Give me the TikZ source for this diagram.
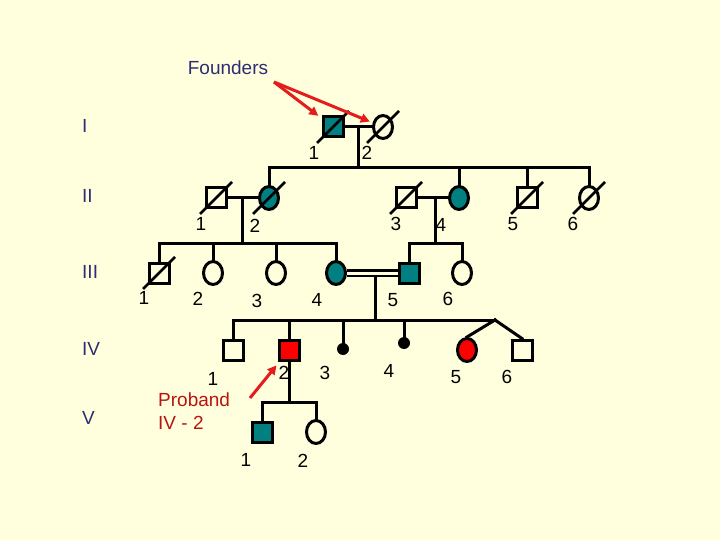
\documentclass[tikz,border=0pt]{standalone}
\usepackage{fontspec}
\setmainfont{Liberation Sans}
\usepackage{xcolor}
\usepackage{tikz}
\usetikzlibrary{arrows.meta,calc,shapes.geometric}
\definecolor{bgpaper}{RGB}{255,255,221}
\definecolor{affteal}{RGB}{0,128,128}
\definecolor{genblue}{RGB}{45,45,115}
\definecolor{probred}{RGB}{185,20,20}
\definecolor{arrred}{RGB}{228,28,28}
\tikzset{
  male/.style={rectangle,draw=black,line width=3pt,minimum size=20pt,inner sep=0pt},
  female/.style={ellipse,draw=black,line width=3pt,minimum width=19pt,minimum height=23pt,inner sep=0pt},
  aff/.style={fill=affteal},
  prob/.style={fill=red},
  sab/.style={circle,fill=black,minimum size=12pt,inner sep=0pt},
  rel/.style={line width=3pt,black,line cap=rect},
  consang/.style={line width=2.5pt,black,double=bgpaper,double distance=3pt},
  slash/.style={line width=2.7pt,black},
  ptr/.style={line width=3pt,arrred,-{Triangle[length=9pt,width=9pt]}},
  num/.style={font=\fontsize{19}{23}\selectfont},
  gen/.style={font=\fontsize{19}{23}\selectfont,text=genblue,inner sep=0pt},
}

\begin{document}
\begin{tikzpicture}[x=1pt,y=-1pt]
  \fill[bgpaper] (0,0) rectangle (720,540);

  % generation I
  \node[male,aff] (i1) at (333,127) {};
  \node[female] (i2) at (383,127) {};
  % generation II
  \node[male] (ii1) at (216,198) {};
  \node[female,aff] (ii2) at (269,198) {};
  \node[male] (ii3) at (406,198) {};
  \node[female,aff] (ii4) at (459,198) {};
  \node[male] (ii5) at (527,198) {};
  \node[female] (ii6) at (589,198) {};
  % generation III
  \node[male] (iii1) at (159,273) {};
  \node[female] (iii2) at (213,273) {};
  \node[female] (iii3) at (276,273) {};
  \node[female,aff] (iii4) at (336,273) {};
  \node[male,aff] (iii5) at (409,273) {};
  \node[female] (iii6) at (462,273) {};
  % generation IV
  \node[male] (iv1) at (233,350) {};
  \node[male,prob] (iv2) at (289,350) {};
  \node[sab] (iv3) at (343,349) {};
  \node[sab] (iv4) at (404,343) {};
  \node[female,prob] (iv5) at (467,350) {};
  \node[male] (iv6) at (522,350) {};
  % generation V
  \node[male,aff] (v1) at (262,432) {};
  \node[female] (v2) at (316,432) {};

  \coordinate (m1) at ($(i1)!.5!(i2)$);
  \coordinate (m2) at ($(ii1)!.5!(ii2)$);
  \coordinate (m3) at (435,198);
  \coordinate (m4) at (375,274.5);
  \coordinate (s2a) at (269,168);
  \coordinate (s2b) at (589,168);
  \coordinate (s3a) at (159,243);
  \coordinate (s3b) at (336,243);
  \coordinate (s3c) at (409,243);
  \coordinate (s3d) at (462,243);
  \coordinate (s4a) at (233,320);
  \coordinate (tw) at (495,320);
  \coordinate (s5a) at (262,402);
  \coordinate (s5b) at (316,402);

  \draw[rel] (i1) -- (i2);
  \draw[rel] (m1) -- (m1 |- s2a);
  \draw[rel] (s2a) -- (s2b);
  \foreach \c in {ii2,ii4,ii5,ii6}
    \draw[rel] (\c) -- (\c |- s2a);

  \draw[rel] (ii1) -- (ii2);
  \draw[rel] (m2) -- (m2 |- s3a);
  \draw[rel] (s3a) -- (s3b);
  \foreach \c in {iii1,iii2,iii3,iii4}
    \draw[rel] (\c) -- (\c |- s3a);

  \draw[rel] (ii3) -- (ii4);
  \draw[rel] (m3) -- (m3 |- s3c);
  \draw[rel] (s3c) -- (s3d);
  \foreach \c in {iii5,iii6}
    \draw[rel] (\c) -- (\c |- s3c);

  \draw[consang] (iii4) -- (iii5);
  \draw[rel,line cap=butt] (m4) -- (m4 |- s4a);
  \draw[rel] (s4a) -- (tw);
  \foreach \c in {iv1,iv2,iv3,iv4}
    \draw[rel] (\c) -- (\c |- s4a);
  \draw[rel] (tw) -- (iv5.north);
  \draw[rel] (tw) -- (iv6.north);

  \draw[rel] (iv2) -- (iv2 |- s5a);
  \draw[rel] (s5a) -- (s5b);
  \foreach \c in {v1,v2}
    \draw[rel] (\c) -- (\c |- s5a);

  % deceased
  \foreach \c in {i1,i2,ii1,ii2,ii3,ii5,ii6,iii1}
    \draw[slash] ($(\c)+(-16,16)$) -- ($(\c)+(16,-16)$);

  % numbers
  \foreach \t/\x/\y [count=\k] in {1/314/153,2/367/153,
      1/201/224,2/255/226,3/396/224,4/441/225,5/513/224,6/573/224,
      1/144/298,2/198/299,3/257/301,4/317/300,5/393/300,6/448/299,
      1/213/379,2/284/373,3/325/373,4/389/371,5/456/377,6/507/377,
      1/246/460,2/303/461}
    \node[num] (n\k) at (\x,\y) {\t};

  \foreach \g/\y in {I/126,II/196,III/272,IV/349,V/418}
    \node[gen,anchor=west] (gen\g) at (82,\y) {\g};

  \node[gen] (founders) at (228,68) {Founders};
  \node[num,text=probred,align=left,anchor=west,inner sep=0pt] (proband) at (158,411) {Proband\\IV - 2};

  \coordinate (fa) at (274,82);
  \coordinate (pa) at (250,398);
  \draw[ptr,shorten >=4pt] (fa) -- (i1);
  \draw[ptr,shorten >=3pt] (fa) -- (i2);
  \draw[ptr,shorten >=5pt] (pa) -- (iv2);
\end{tikzpicture}
\end{document}
